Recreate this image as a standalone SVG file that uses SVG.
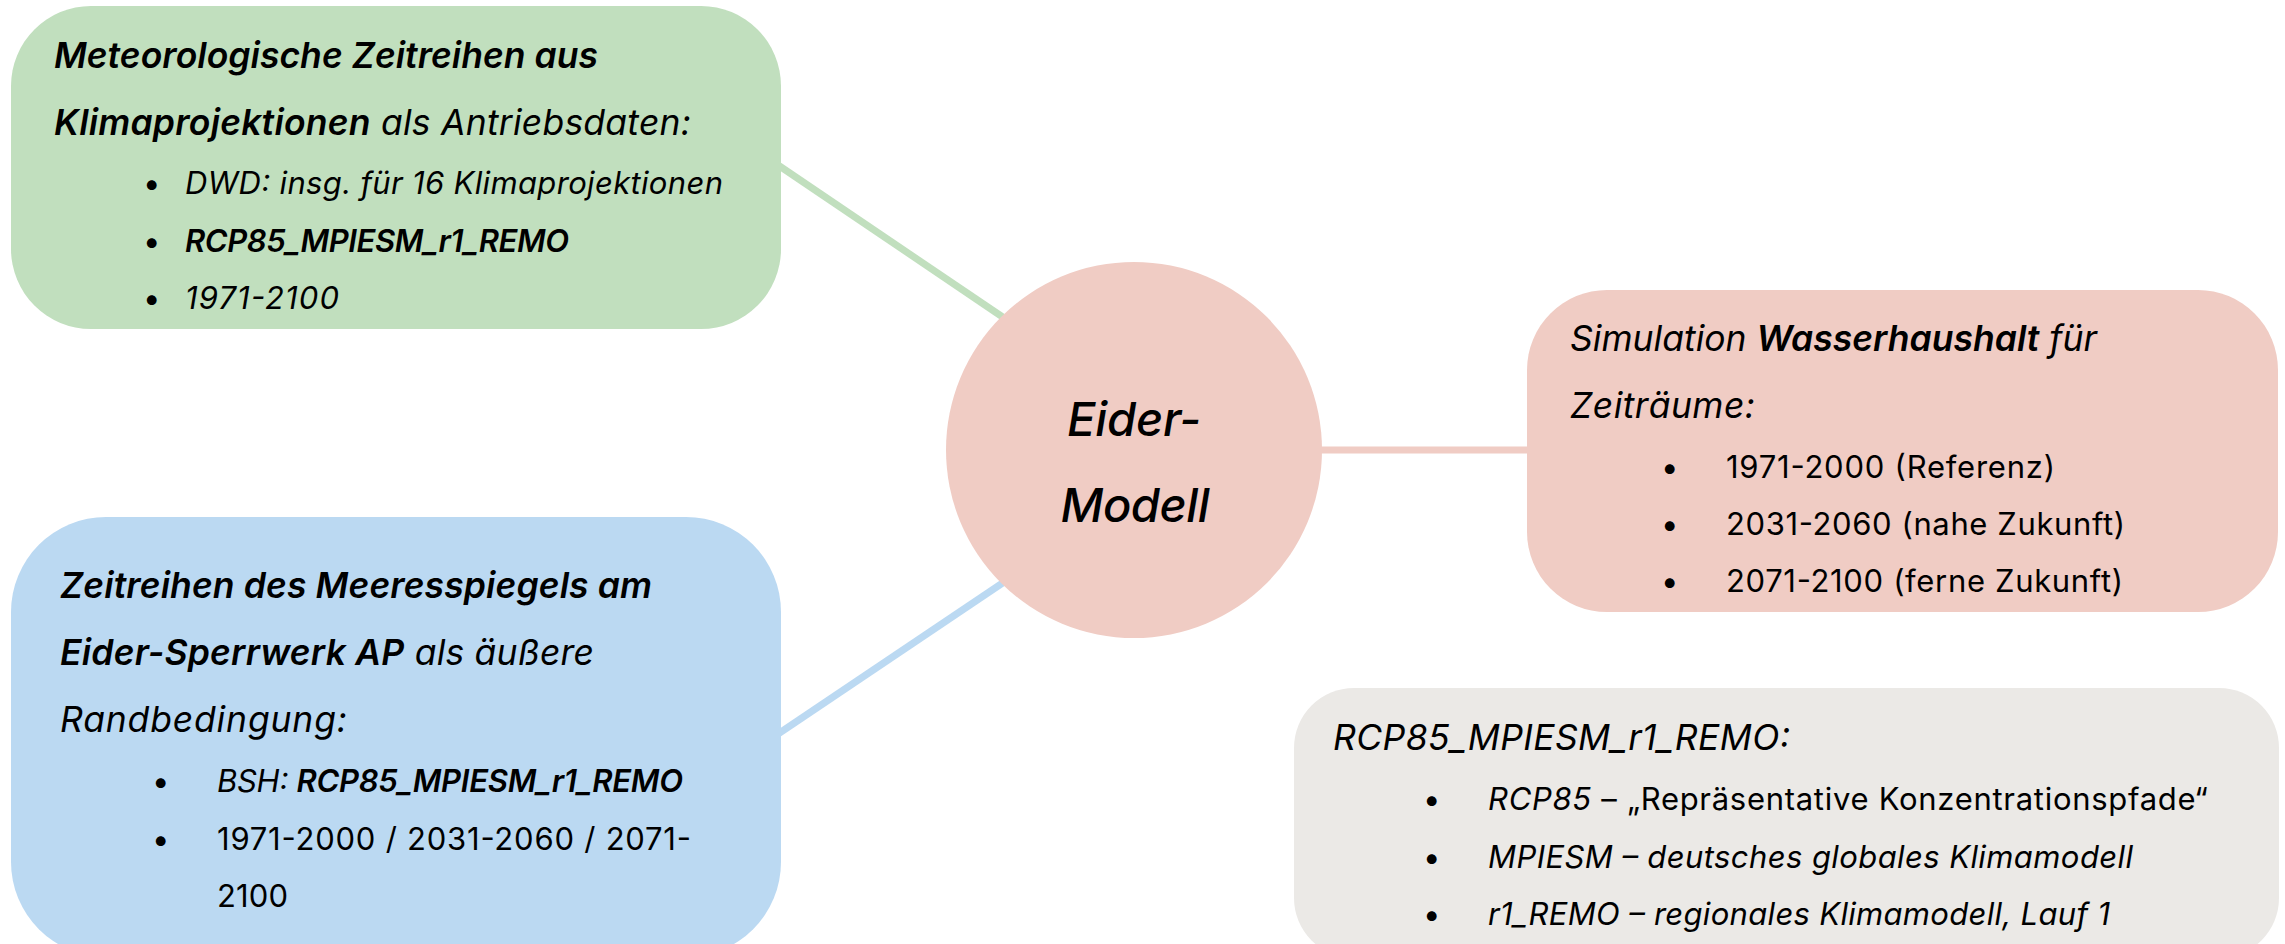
<svg xmlns="http://www.w3.org/2000/svg" width="2285" height="944" viewBox="0 0 2285 944">
<style>
text{font-family:Inter,"Noto Sans","Liberation Sans",sans-serif;fill:#000}
.t{font-size:35.5px;font-style:italic}
.b{font-size:31px}
.i{font-style:italic}
.s{font-weight:600}
.c{font-size:47px;font-style:italic;font-weight:500}
</style>
<rect width="2285" height="944" fill="#fff"/>
<g id="connectors" stroke-width="7" fill="none">
<line x1="775" y1="163" x2="1010" y2="322" stroke="#c1dfbe"/>
<line x1="775" y1="736" x2="1010" y2="578" stroke="#bbd9f2"/>
<line x1="1300" y1="450" x2="1535" y2="450" stroke="#f0ccc4"/>
</g>
<g id="meteo">
<rect x="11" y="6" width="770" height="323" rx="80" fill="#c1dfbe"/>
<text class="t s" x="54" y="68" textLength="544">Meteorologische Zeitreihen aus</text>
<text class="t" x="54" y="135" textLength="637"><tspan class="s">Klimaprojektionen</tspan> als Antriebsdaten:</text>
<text class="b" x="143" y="194">•</text><text class="b i" x="185" y="194" textLength="538">DWD: insg. für 16 Klimaprojektionen</text>
<text class="b" x="143" y="252">•</text><text class="b i s" x="185" y="252" textLength="384">RCP85_MPIESM_r1_REMO</text>
<text class="b" x="143" y="309">•</text><text class="b i" x="185" y="309" textLength="154">1971-2100</text>
</g>
<g id="meer">
<rect x="11" y="517" width="770" height="440" rx="95" fill="#bbd9f2"/>
<text class="t s" x="60" y="598" textLength="592">Zeitreihen des Meeresspiegels am</text>
<text class="t" x="60" y="665" textLength="534"><tspan class="s">Eider-Sperrwerk AP</tspan> als äußere</text>
<text class="t" x="60" y="732" textLength="287">Randbedingung:</text>
<text class="b" x="152" y="792">•</text><text class="b i" x="217" y="792" textLength="466">BSH: <tspan class="s">RCP85_MPIESM_r1_REMO</tspan></text>
<text class="b" x="152" y="850">•</text><text class="b" x="217" y="850" textLength="474">1971-2000 / 2031-2060 / 2071-</text>
<text class="b" x="217" y="907" textLength="71">2100</text>
</g>
<g id="eider">
<circle cx="1134" cy="450" r="188" fill="#f0ccc4"/>
<text class="c" x="1134" y="436" text-anchor="middle" textLength="134">Eider-</text>
<text class="c" x="1135" y="522" text-anchor="middle" textLength="149">Modell</text>
</g>
<g id="wasser">
<rect x="1527" y="290" width="751" height="322" rx="80" fill="#f0ccc4"/>
<text class="t" x="1570" y="351" textLength="527">Simulation <tspan class="s">Wasserhaushalt</tspan> für</text>
<text class="t" x="1570" y="418" textLength="185">Zeiträume:</text>
<text class="b" x="1661" y="478">•</text><text class="b" x="1726" y="478" textLength="329">1971-2000 (Referenz)</text>
<text class="b" x="1661" y="535">•</text><text class="b" x="1726" y="535" textLength="399">2031-2060 (nahe Zukunft)</text>
<text class="b" x="1661" y="592">•</text><text class="b" x="1726" y="592" textLength="397">2071-2100 (ferne Zukunft)</text>
</g>
<g id="rcp">
<rect x="1294" y="688" width="985" height="270" rx="60" fill="#ebe9e6"/>
<text class="t" x="1333" y="750" textLength="457">RCP85_MPIESM_r1_REMO:</text>
<text class="b" x="1423" y="810">•</text><text class="b" x="1488" y="810" textLength="720"><tspan class="i">RCP85</tspan> – „Repräsentative Konzentrationspfade“</text>
<text class="b" x="1423" y="868">•</text><text class="b i" x="1488" y="868" textLength="645">MPIESM – deutsches globales Klimamodell</text>
<text class="b" x="1423" y="925">•</text><text class="b i" x="1488" y="925" textLength="622">r1_REMO – regionales Klimamodell, Lauf 1</text>
</g>
</svg>
